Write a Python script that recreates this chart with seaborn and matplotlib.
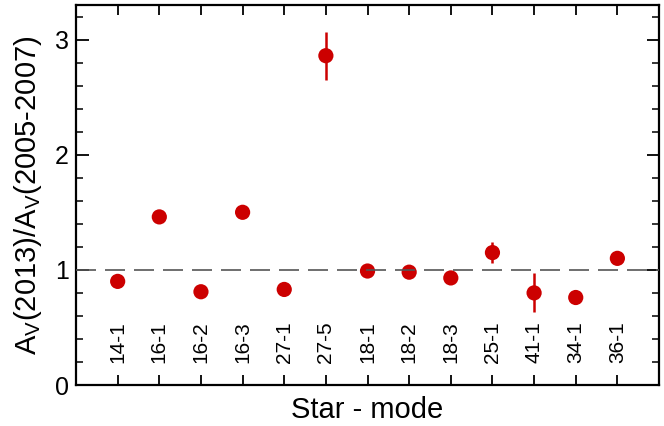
import numpy as np
import pandas as pd
import matplotlib
matplotlib.use("Agg")
import matplotlib.pyplot as plt
from matplotlib.ticker import MultipleLocator
import seaborn as sns

# ── data ────────────────────────────────────────────────────────────────────
stars  = ["14-1", "16-1", "16-2", "16-3", "27-1", "27-5", "18-1",
          "18-2", "18-3", "25-1", "41-1", "34-1", "36-1"]
ratio  = [0.90, 1.46, 0.81, 1.50, 0.83, 2.86, 0.99,
          0.98, 0.93, 1.15, 0.80, 0.76, 1.10]
ratio_err = [0.03, 0.03, 0.03, 0.03, 0.03, 0.21, 0.03,
             0.03, 0.03, 0.09, 0.17, 0.03, 0.03]

df = pd.DataFrame({"star": stars, "ratio": ratio, "err": ratio_err})

RED = "#cc0000"

sns.set_style("ticks", {"text.color": "black", "axes.labelcolor": "black",
                        "xtick.color": "black", "ytick.color": "black",
                        "axes.edgecolor": "black"})
plt.rcParams["font.family"] = ["Liberation Sans", "DejaVu Sans"]

fig = plt.figure(figsize=(6.64, 4.26), dpi=100)
ax = fig.add_axes([0.1145, 0.0962, 0.878, 0.892])

# error bars first, points on top
x = np.arange(len(stars))
ax.errorbar(x, df["ratio"], yerr=df["err"], fmt="none",
            ecolor=RED, elinewidth=1.8, capsize=0, zorder=2)
sns.scatterplot(data=df, x="star", y="ratio", color=RED, s=120,
                edgecolor="none", ax=ax, zorder=3)

# reference line at 1
ax.axhline(1.0, color="#555555", lw=1.2, dashes=(12, 5.4), zorder=4)

ax.set_xlim(-1, len(stars))
ax.set_ylim(0, 3.3)

# x: category labels drawn inside the frame
ax.set_xticks(x)
ax.set_xticklabels(stars, rotation=90, va="bottom")
ax.tick_params(axis="x", direction="in", length=7, width=1.3,
               top=True, bottom=True, pad=-16, labelsize=15,
               labelcolor="black")

# y: majors labelled, minors every 0.2
ax.yaxis.set_major_locator(MultipleLocator(1))
ax.yaxis.set_minor_locator(MultipleLocator(0.2))
ax.tick_params(axis="y", which="major", direction="in", length=9, width=1.3,
               left=True, right=True, labelsize=18, pad=5,
               labelcolor="black")
ax.tick_params(axis="y", which="minor", direction="in", length=5, width=1.1,
               left=True, right=True)

for sp in ax.spines.values():
    sp.set_linewidth(1.6)
    sp.set_color("black")

ax.set_xlabel("Star - mode", fontsize=21, labelpad=8, color="black")
ax.set_ylabel(r"A$_\mathregular{V}$(2013)/A$_\mathregular{V}$(2005-2007)",
              fontsize=21, labelpad=8, color="black")

fig.savefig("out.png", dpi=100)
plt.close(fig)
